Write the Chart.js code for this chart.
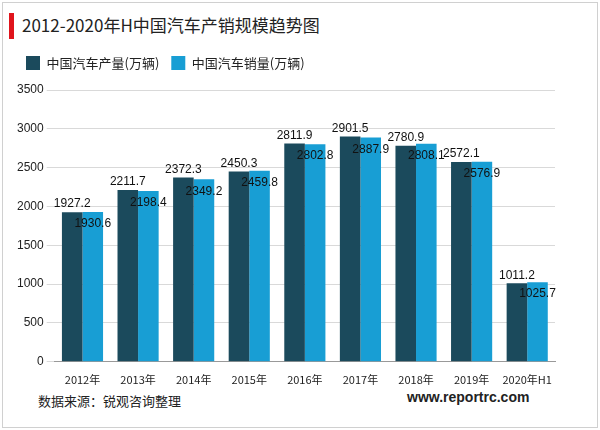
<!DOCTYPE html>
<html><head><meta charset="utf-8">
<script src="https://cdn.jsdelivr.net/npm/chart.js@4"></script>
<style>
body{margin:0;background:#fff;font-family:"Noto Sans CJK SC","Liberation Sans",sans-serif;}
#wrap{position:absolute;left:2px;top:2px;width:594px;height:424px;border:1px solid #d0d0d0;}
#bar{position:absolute;left:9px;top:13px;width:5px;height:26px;background:#e0141c;}
#title{position:absolute;left:22px;top:12px;font-size:17px;color:#222;}
#src{position:absolute;left:38px;top:391px;font-size:13px;color:#222;}
#url{position:absolute;left:407px;top:389px;font-size:14px;font-weight:bold;color:#222;font-family:"Liberation Sans",sans-serif;}
#c{position:absolute;left:0;top:44px;}
</style></head><body>
<div id="wrap"></div><div id="bar"></div>
<div id="title">2012-2020年H中国汽车产销规模趋势图</div>
<canvas id="c" width="600" height="345" style="width:600px;height:345px"></canvas>
<div id="src">数据来源：锐观咨询整理</div>
<div id="url">www.reportrc.com</div>
<script>
const categories=["2012年","2013年","2014年","2015年","2016年","2017年","2018年","2019年","2020年H1"];
const production=[1927.2,2211.7,2372.3,2450.3,2811.9,2901.5,2780.9,2572.1,1011.2];
const sales=[1930.6,2198.4,2349.2,2459.8,2802.8,2887.9,2808.1,2576.9,1025.7];
const yTicks=[0,500,1000,1500,2000,2500,3000,3500];
const labelPlugin={id:'lbl',afterDatasetsDraw(ch){
 const ctx=ch.ctx;ctx.save();ctx.font='12px "Liberation Sans",sans-serif';ctx.fillStyle='#111';ctx.textAlign='center';ctx.textBaseline='bottom';
 ch.getDatasetMeta(0).data.forEach((b,i)=>{ctx.fillText(production[i].toFixed(1),b.x,b.y-2);});
 ctx.textBaseline='top';
 ch.getDatasetMeta(1).data.forEach((b,i)=>{ctx.fillText(sales[i].toFixed(1),b.x,b.y+6);});
 ctx.restore();}};
new Chart(document.getElementById('c'),{type:'bar',
data:{labels:categories,datasets:[
{label:'中国汽车产量(万辆)',data:production,backgroundColor:'#1b4a5c'},
{label:'中国汽车销量(万辆)',data:sales,backgroundColor:'#189ed4'}]},
options:{responsive:false,animation:false,
layout:{padding:{left:14,right:45,top:0,bottom:0}},
datasets:{bar:{categoryPercentage:0.74,barPercentage:1}},
plugins:{legend:{align:'start',labels:{boxWidth:14,boxHeight:14,color:'#222',padding:12,font:{size:13,family:'"Noto Sans CJK SC"'}}},tooltip:{enabled:false}},
scales:{y:{min:0,max:3500,afterBuildTicks:a=>{a.ticks=yTicks.map(v=>({value:v}));},ticks:{callback:v=>String(v),color:'#222',font:{size:12}},grid:{color:'#d9d9d9'},border:{display:false}},
x:{ticks:{color:'#222',font:{size:11,family:'"Noto Sans CJK SC"'}},grid:{display:false},border:{color:'#999'}}}},
plugins:[labelPlugin,{id:'pad',beforeInit(ch){const f=ch.legend.fit;ch.legend.fit=function(){f.call(this);this.height+=10;};}}]});
</script></body></html>
